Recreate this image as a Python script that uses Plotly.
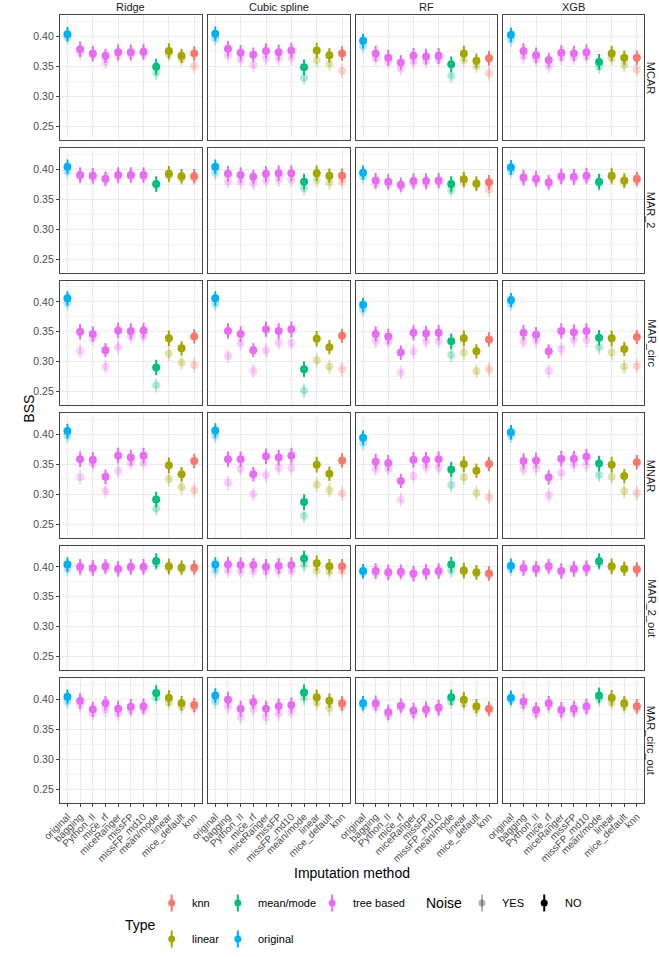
import plotly.graph_objects as go

methods = ["original", "bagging", "Python_II", "mice_rf", "miceRanger", "missFP",
           "missFP_md10", "mean/mode", "linear", "mice_default", "knn"]
method_type = ["original", "tree based", "tree based", "tree based", "tree based", "tree based",
               "tree based", "mean/mode", "linear", "linear", "knn"]
models = ["Ridge", "Cubic spline", "RF", "XGB"]
mechanisms = ["MCAR", "MAR_2", "MAR_circ", "MNAR", "MAR_2_out", "MAR_circ_out"]
type_order = ["knn", "mean/mode", "tree based", "linear", "original"]
type_colors = {"knn": (248, 118, 109), "linear": (163, 165, 0), "mean/mode": (0, 191, 125),
               "original": (0, 176, 246), "tree based": (231, 107, 243)}

# half-width of the error bars per method
err_no = [0.012, 0.013, 0.013, 0.012, 0.013, 0.013, 0.013, 0.013, 0.013, 0.012, 0.012]
err_yes = [0.012, 0.012, 0.012, 0.012, 0.012, 0.012, 0.012, 0.012, 0.012, 0.012, 0.012]

# BSS values: rows = models (Ridge, Cubic spline, RF, XGB), columns = methods
MCAR_NO = [[0.403, 0.378, 0.371, 0.367, 0.373, 0.373, 0.374, 0.349, 0.375, 0.367, 0.371],
           [0.404, 0.379, 0.372, 0.369, 0.375, 0.373, 0.376, 0.348, 0.376, 0.368, 0.371],
           [0.392, 0.371, 0.364, 0.356, 0.367, 0.366, 0.367, 0.353, 0.371, 0.359, 0.363],
           [0.402, 0.375, 0.368, 0.360, 0.372, 0.371, 0.373, 0.357, 0.371, 0.364, 0.364]]
MCAR_YES = [[0.398, 0.372, 0.368, 0.357, 0.368, 0.369, 0.370, 0.339, 0.370, 0.362, 0.350],
            [0.396, 0.368, 0.361, 0.352, 0.363, 0.363, 0.364, 0.331, 0.360, 0.354, 0.342],
            [0.383, 0.363, 0.357, 0.346, 0.357, 0.358, 0.360, 0.334, 0.360, 0.350, 0.338],
            [0.394, 0.366, 0.361, 0.350, 0.364, 0.364, 0.366, 0.349, 0.363, 0.352, 0.344]]
MAR2_NO = [[0.404, 0.390, 0.389, 0.384, 0.390, 0.390, 0.390, 0.375, 0.392, 0.388, 0.388],
           [0.404, 0.392, 0.390, 0.387, 0.392, 0.393, 0.393, 0.379, 0.393, 0.389, 0.389],
           [0.394, 0.381, 0.379, 0.374, 0.380, 0.380, 0.381, 0.375, 0.383, 0.376, 0.378],
           [0.403, 0.386, 0.384, 0.378, 0.388, 0.387, 0.389, 0.379, 0.389, 0.381, 0.384]]
MAR2_YES = [[0.396, 0.388, 0.386, 0.382, 0.387, 0.388, 0.388, 0.374, 0.389, 0.385, 0.385],
            [0.394, 0.379, 0.379, 0.376, 0.381, 0.382, 0.382, 0.368, 0.382, 0.378, 0.379],
            [0.388, 0.376, 0.375, 0.370, 0.376, 0.376, 0.378, 0.365, 0.379, 0.374, 0.366],
            [0.396, 0.382, 0.381, 0.375, 0.384, 0.384, 0.385, 0.376, 0.386, 0.379, 0.381]]
MARC_NO = [[0.406, 0.350, 0.346, 0.319, 0.352, 0.351, 0.352, 0.290, 0.339, 0.322, 0.342],
           [0.406, 0.351, 0.346, 0.319, 0.354, 0.351, 0.354, 0.287, 0.338, 0.324, 0.343],
           [0.395, 0.346, 0.342, 0.315, 0.348, 0.347, 0.348, 0.334, 0.339, 0.317, 0.337],
           [0.403, 0.348, 0.345, 0.317, 0.351, 0.349, 0.351, 0.340, 0.339, 0.321, 0.341]]
MARC_YES = [[0.398, 0.318, 0.339, 0.291, 0.324, 0.342, 0.342, 0.260, 0.313, 0.298, 0.294],
            [0.397, 0.309, 0.331, 0.284, 0.319, 0.332, 0.331, 0.251, 0.302, 0.291, 0.287],
            [0.387, 0.334, 0.333, 0.281, 0.317, 0.334, 0.334, 0.311, 0.315, 0.284, 0.287],
            [0.397, 0.334, 0.335, 0.284, 0.321, 0.336, 0.336, 0.324, 0.315, 0.291, 0.292]]
MNAR_NO = [[0.405, 0.358, 0.357, 0.329, 0.364, 0.361, 0.364, 0.291, 0.348, 0.333, 0.355],
           [0.406, 0.358, 0.358, 0.333, 0.363, 0.361, 0.364, 0.287, 0.349, 0.334, 0.356],
           [0.394, 0.354, 0.352, 0.322, 0.357, 0.357, 0.358, 0.341, 0.350, 0.339, 0.350],
           [0.403, 0.355, 0.356, 0.328, 0.359, 0.359, 0.362, 0.351, 0.349, 0.330, 0.353]]
MNAR_YES = [[0.397, 0.328, 0.351, 0.305, 0.339, 0.352, 0.352, 0.276, 0.325, 0.312, 0.307],
            [0.397, 0.319, 0.342, 0.300, 0.332, 0.344, 0.344, 0.264, 0.316, 0.307, 0.301],
            [0.385, 0.342, 0.342, 0.291, 0.330, 0.345, 0.344, 0.315, 0.328, 0.302, 0.295],
            [0.397, 0.342, 0.343, 0.298, 0.335, 0.349, 0.349, 0.332, 0.329, 0.305, 0.302]]
MAR2O_NO = [[0.404, 0.400, 0.398, 0.401, 0.397, 0.400, 0.400, 0.410, 0.401, 0.399, 0.399],
            [0.404, 0.404, 0.403, 0.403, 0.400, 0.402, 0.403, 0.414, 0.406, 0.401, 0.401],
            [0.393, 0.393, 0.391, 0.392, 0.389, 0.392, 0.393, 0.404, 0.394, 0.391, 0.389],
            [0.402, 0.398, 0.397, 0.401, 0.393, 0.397, 0.398, 0.410, 0.401, 0.397, 0.396]]
MAR2O_YES = [[0.397, 0.397, 0.396, 0.397, 0.394, 0.397, 0.397, 0.406, 0.398, 0.396, 0.396],
             [0.394, 0.393, 0.392, 0.393, 0.392, 0.393, 0.393, 0.403, 0.394, 0.392, 0.393],
             [0.390, 0.390, 0.388, 0.389, 0.387, 0.389, 0.390, 0.394, 0.392, 0.389, 0.388],
             [0.397, 0.396, 0.394, 0.397, 0.392, 0.394, 0.396, 0.406, 0.398, 0.396, 0.394]]
MARCO_NO = [[0.404, 0.397, 0.383, 0.393, 0.384, 0.387, 0.388, 0.410, 0.402, 0.393, 0.390],
            [0.406, 0.399, 0.384, 0.395, 0.384, 0.388, 0.390, 0.411, 0.403, 0.397, 0.393],
            [0.393, 0.393, 0.378, 0.389, 0.381, 0.383, 0.386, 0.403, 0.399, 0.388, 0.384],
            [0.402, 0.396, 0.382, 0.393, 0.382, 0.384, 0.388, 0.406, 0.402, 0.393, 0.388]]
MARCO_YES = [[0.396, 0.390, 0.376, 0.382, 0.376, 0.382, 0.383, 0.403, 0.394, 0.387, 0.385],
             [0.396, 0.387, 0.370, 0.383, 0.370, 0.376, 0.379, 0.402, 0.393, 0.385, 0.387],
             [0.389, 0.388, 0.373, 0.385, 0.375, 0.379, 0.382, 0.396, 0.392, 0.383, 0.382],
             [0.398, 0.390, 0.376, 0.388, 0.376, 0.379, 0.383, 0.400, 0.394, 0.388, 0.384]]

data_no = [MCAR_NO, MAR2_NO, MARC_NO, MNAR_NO, MAR2O_NO, MARCO_NO]
data_yes = [MCAR_YES, MAR2_YES, MARC_YES, MNAR_YES, MAR2O_YES, MARCO_YES]

W, H = 659, 957
col_px = [(43, 189), (195, 341), (347, 492), (499, 644)]
row_px = [(15, 140), (148, 273), (281, 405), (413, 538), (546, 670), (678, 803)]
FONT = "Liberation Sans, Arial, Helvetica, sans-serif"


def rgba(t, a):
    r, g, b = type_colors[t]
    return f"rgba({r},{g},{b},{a})"


def ann(text, px, py, size, color="black", xanchor="center", angle=0):
    return dict(text=text, x=px / W, y=1 - py / H, xref="paper", yref="paper",
                xanchor=xanchor, yanchor="middle", showarrow=False, textangle=angle,
                font=dict(size=size, color=color, family=FONT))


fig = go.Figure()
layout = {}
annotations = []

for r, mech in enumerate(mechanisms):
    for c, model in enumerate(models):
        k = r * 4 + c + 1
        sfx = "" if k == 1 else str(k)
        for noise, vals_all, errs, alpha in (("YES", data_yes, err_yes, 0.3), ("NO", data_no, err_no, 1.0)):
            vals = vals_all[r][c]
            for t in type_order:
                idx = [i for i, mt in enumerate(method_type) if mt == t]
                fig.add_trace(go.Scatter(
                    x=[methods[i] for i in idx], y=[vals[i] for i in idx],
                    mode="markers",
                    marker=dict(size=8, color=rgba(t, alpha), line=dict(width=0)),
                    error_y=dict(type="data", array=[errs[i] for i in idx], visible=True,
                                 color=rgba(t, alpha), thickness=2, width=0),
                    xaxis="x" + sfx, yaxis="y" + sfx, showlegend=False,
                    hoverinfo="x+y"))
        x0, x1 = col_px[c]
        y0, y1 = row_px[r]
        bottom = r == len(mechanisms) - 1
        left = c == 0
        layout["xaxis" + sfx] = dict(
            domain=[x0 / W, x1 / W], anchor="y" + sfx, type="category",
            categoryorder="array", categoryarray=methods, range=[-0.6, 10.6],
            showgrid=True, gridcolor="#EBEBEB", gridwidth=1, zeroline=False,
            showline=True, mirror=True, linecolor="#444444", linewidth=1,
            ticks="outside" if bottom else "", ticklen=3, tickcolor="#444444",
            showticklabels=bottom, tickangle=-45,
            tickfont=dict(size=10, color="#4D4D4D", family=FONT))
        layout["yaxis" + sfx] = dict(
            domain=[1 - y1 / H, 1 - y0 / H], anchor="x" + sfx, range=[0.227, 0.435],
            tickvals=[0.25, 0.30, 0.35, 0.40], ticktext=["0.25", "0.30", "0.35", "0.40"],
            showgrid=True, gridcolor="#EBEBEB", gridwidth=1, zeroline=False,
            minor=dict(tickvals=[0.275, 0.325, 0.375, 0.425], showgrid=True,
                       gridcolor="#F3F3F3", gridwidth=0.6),
            showline=True, mirror=True, linecolor="#444444", linewidth=1,
            ticks="outside" if left else "", ticklen=3, tickcolor="#444444",
            showticklabels=left,
            tickfont=dict(size=10.5, color="#4D4D4D", family=FONT))
        if r == 0:
            annotations.append(ann(model, (x0 + x1) / 2, 7, 11, "#1A1A1A"))
        if c == 3:
            annotations.append(ann(mech, 651.5, (y0 + y1) / 2, 11, "#1A1A1A", angle=90))

annotations.append(ann("BSS", 11, 409, 14, angle=-90))
annotations.append(ann("Imputation method", 343, 873, 14))

# legend drawn in a pixel-space axis at the bottom of the figure
LEG_TOP = 880
layout["xaxis25"] = dict(domain=[0, 1], range=[0, W], visible=False, fixedrange=True, anchor="y25")
layout["yaxis25"] = dict(domain=[0, (H - LEG_TOP) / H], range=[H, LEG_TOP], visible=False,
                         fixedrange=True, anchor="x25")
row1, row2 = 903, 939
legend_keys = [("knn", 158, row1, rgba("knn", 1)), ("mean/mode", 226, row1, rgba("mean/mode", 1)),
               ("tree based", 323, row1, rgba("tree based", 1)), ("linear", 158, row2, rgba("linear", 1)),
               ("original", 226, row2, rgba("original", 1)),
               ("YES", 477, row1, "rgba(0,0,0,0.3)"), ("NO", 541, row1, "rgba(0,0,0,1)")]
for label, kx, ky, col in legend_keys:
    fig.add_trace(go.Scatter(x=[kx], y=[ky], mode="markers", xaxis="x25", yaxis="y25",
                             marker=dict(size=7, color=col, line=dict(width=0)),
                             error_y=dict(type="constant", value=8.5, color=col, thickness=2, width=0),
                             showlegend=False, hoverinfo="skip", cliponaxis=False))
    annotations.append(ann(label, kx + 19, ky, 11, xanchor="left"))
annotations.append(ann("Type", 108, 925, 14, xanchor="left"))
annotations.append(ann("Noise", 417, row1, 14, xanchor="left"))

fig.update_layout(width=W, height=H, margin=dict(l=0, r=0, t=0, b=0),
                  paper_bgcolor="white", plot_bgcolor="rgba(0,0,0,0)",
                  annotations=annotations, showlegend=False, **layout)
fig.write_html("out.html")
